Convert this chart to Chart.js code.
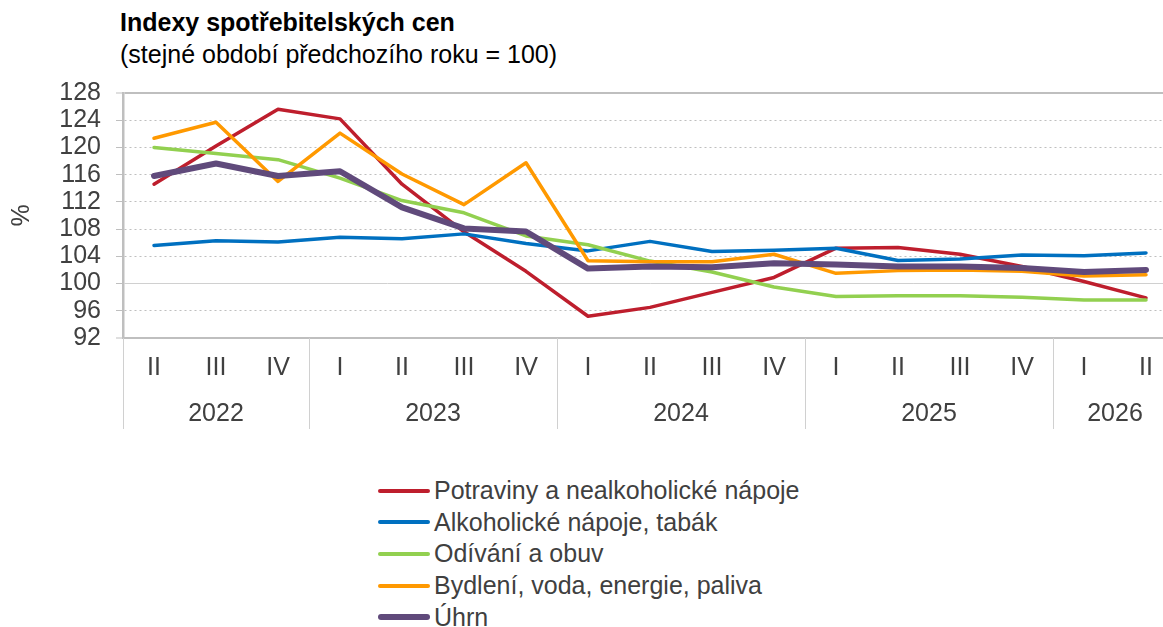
<!DOCTYPE html>
<html lang="cs">
<head>
<meta charset="utf-8">
<title>Indexy spotřebitelských cen</title>
<script src="https://cdn.jsdelivr.net/npm/chart.js@4.4.1/dist/chart.umd.min.js"></script>
<style>
    html, body { margin: 0; padding: 0; background: #fff; overflow: hidden; }
    body { font-family: "Liberation Sans", Arial, sans-serif; color: #404040; }
    #wrap { position: relative; width: 1180px; height: 627px; }
    #myChart { position: absolute; left: 0; top: 0; }
    .title { position: absolute; left: 120px; font-size: 25px; line-height: 30px; color: #000; white-space: nowrap; }
    #title { top: 7px; font-weight: bold; }
    #subtitle { top: 39px; }
    #legend { position: absolute; left: 378px; top: 475px; }
    .item { display: flex; align-items: center; height: 31.6px; font-size: 25px; white-space: nowrap; }
    .item span.line { display: inline-block; width: 52px; border-radius: 3px; margin-right: 4px; }
</style>
</head>
<body>
<div id="wrap">
    <div class="title" id="title">Indexy spotřebitelských cen</div>
    <div class="title" id="subtitle">(stejné období předchozího roku = 100)</div>
    <canvas id="myChart" width="1180" height="440"></canvas>
    <div id="legend"></div>
</div>
<script>
// data
const quarters = ['II', 'III', 'IV', 'I', 'II', 'III', 'IV', 'I', 'II', 'III', 'IV', 'I', 'II', 'III', 'IV', 'I', 'II'];
const quarterYears = ['2022', '2022', '2022', '2023', '2023', '2023', '2023', '2024', '2024', '2024', '2024',
    '2025', '2025', '2025', '2025', '2026', '2026'];
const yTicks = [92, 96, 100, 104, 108, 112, 116, 120, 124, 128];

const food = [114.6, 120.2, 125.6, 124.2, 114.6, 107.6, 101.8, 95.2, 96.5, 98.7, 100.9, 105.2, 105.3, 104.3, 102.5, 100.3, 97.9];
const alcohol = [105.6, 106.3, 106.1, 106.8, 106.6, 107.3, 105.9, 104.8, 106.2, 104.7, 104.9, 105.2, 103.4, 103.6, 104.2, 104.1, 104.5];
const clothing = [120.0, 119.1, 118.2, 115.5, 112.2, 110.4, 107.0, 105.7, 103.3, 101.7, 99.5, 98.1, 98.2, 98.2, 98.0, 97.6, 97.6];
const housing = [121.35, 123.7, 115.0, 122.1, 116.1, 111.6, 117.75, 103.35, 103.2, 103.2, 104.3, 101.5, 101.9, 102.0, 101.8, 101.1, 101.3];
const total = [115.8, 117.65, 115.8, 116.5, 111.2, 108.1, 107.65, 102.2, 102.5, 102.4, 103.0, 102.8, 102.5, 102.5, 102.3, 101.7, 102.0];

const FONT = '"Liberation Sans", Arial, sans-serif';
const TEXT = '#404040';
const GRID = '#bfbfbf';

const datasets = [
    { label: 'Potraviny a nealkoholické nápoje', data: food, borderColor: '#be1e2d', borderWidth: 3.5, order: 5 },
    { label: 'Alkoholické nápoje, tabák', data: alcohol, borderColor: '#0070c0', borderWidth: 3.5, order: 4 },
    { label: 'Odívání a obuv', data: clothing, borderColor: '#92d050', borderWidth: 3.5, order: 3 },
    { label: 'Bydlení, voda, energie, paliva', data: housing, borderColor: '#ff9900', borderWidth: 3.5, order: 2 },
    { label: 'Úhrn', data: total, borderColor: '#604a7b', borderWidth: 6, order: 1 },
];

/** year groups under the quarter labels, with the separators */
const yearAxis = {
    id: 'yearAxis',
    afterDraw: (chart) => {
        const {ctx, chartArea, scales: {x}} = chart;
        const half = (x.getPixelForValue(1) - x.getPixelForValue(0)) / 2;
        const vline = (px) => {
            const xx = Math.round(px) + 0.5;
            ctx.beginPath();
            ctx.moveTo(xx, chartArea.bottom);
            ctx.lineTo(xx, chartArea.bottom + 91);
            ctx.stroke();
        };
        ctx.save();
        ctx.strokeStyle = '#d0d0d0';
        ctx.lineWidth = 1;
        ctx.fillStyle = TEXT;
        ctx.font = '25px ' + FONT;
        ctx.textAlign = 'center';
        ctx.textBaseline = 'middle';
        let start = 0;
        for (let i = 1; i <= quarterYears.length; i++) {
            if (i === quarterYears.length || quarterYears[i] !== quarterYears[start]) {
                const left = x.getPixelForValue(start) - half;
                const right = x.getPixelForValue(i - 1) + half;
                vline(left);
                if (i === quarterYears.length) vline(right);
                ctx.fillText(quarterYears[start], (left + right) / 2, chartArea.bottom + 76);
                start = i;
            }
        }
        ctx.restore();
    }
};

const config = {
    type: 'line',
    data: {
        labels: quarters,
        datasets: datasets.map(d => Object.assign({
            fill: false,
            tension: 0,
            pointRadius: 0,
            pointHoverRadius: 0,
            borderCapStyle: 'round',
            borderJoinStyle: 'round'
        }, d))
    },
    options: {
        responsive: false,
        animation: false,
        devicePixelRatio: 1,
        layout: {
            padding: { top: 93, right: 3, bottom: 0, left: 0 }
        },
        scales: {
            x: {
                offset: true,
                afterFit: (scale) => { scale.height = 102; },
                grid: { display: false, drawTicks: false },
                border: { display: true, color: GRID, width: 2 },
                ticks: {
                    color: TEXT,
                    font: { family: FONT, size: 25 },
                    padding: 15,
                    maxRotation: 0,
                    autoSkip: false
                }
            },
            y: {
                min: 92,
                max: 128,
                afterFit: (scale) => { scale.width = 123; },
                afterBuildTicks: (scale) => { scale.ticks = yTicks.map(v => ({ value: v })); },
                title: {
                    display: true,
                    text: '%',
                    color: TEXT,
                    font: { family: FONT, size: 25 },
                    padding: { top: 7, bottom: 0 }
                },
                grid: {
                    color: (c) => (c.tick && c.tick.value === 100) ? '#d0d0d0' : GRID,
                    lineWidth: (c) => (c.tick && (c.tick.value === 128 || c.tick.value === 92)) ? 2 : 1,
                    tickLength: 7,
                    tickColor: GRID,
                    tickWidth: 1,
                    tickBorderDash: []
                },
                border: {
                    display: true,
                    color: GRID,
                    width: 2.5,
                    dash: (c) => (!c.tick || [92, 100, 128].includes(c.tick.value)) ? [] : [2, 3]
                },
                ticks: {
                    color: TEXT,
                    font: { family: FONT, size: 25 },
                    padding: 15,
                    autoSkip: false
                }
            }
        },
        plugins: {
            legend: { display: false },
            tooltip: { enabled: false }
        }
    },
    plugins: [yearAxis]
};

new Chart(document.getElementById('myChart'), config);

// legend as a column, like the original
const legend = document.getElementById('legend');
datasets.forEach(d => {
    const row = document.createElement('div');
    row.className = 'item';
    const line = document.createElement('span');
    line.className = 'line';
    line.style.height = (d.borderWidth > 4 ? 6 : 4) + 'px';
    line.style.background = d.borderColor;
    row.appendChild(line);
    row.appendChild(document.createTextNode(d.label));
    legend.appendChild(row);
});
</script>
</body>
</html>
